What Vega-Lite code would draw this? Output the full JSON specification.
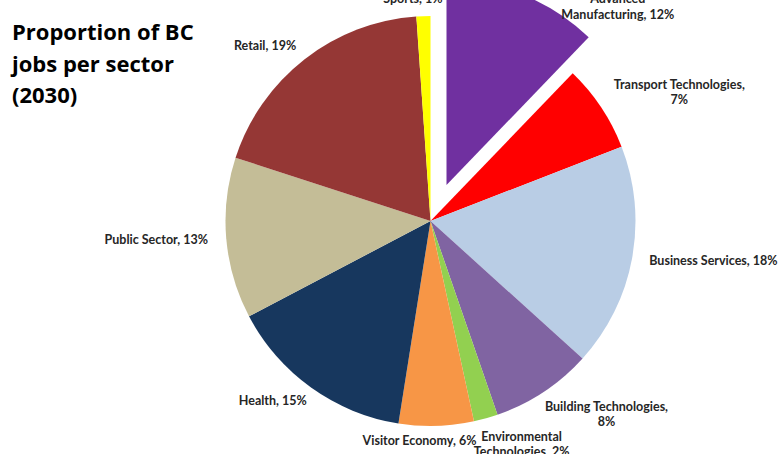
{
  "$schema": "https://vega.github.io/schema/vega-lite/v6.json",
  "width": 701,
  "height": 442,
  "autosize": {"type": "none"},
  "padding": {"left": 80, "top": 0, "right": 0, "bottom": 12},
  "background": "white",
  "view": {"stroke": null},
  "title": {
    "text": ["Proportion of BC", "jobs per sector", "(2030)"],
    "anchor": "start",
    "frame": "group",
    "orient": "top",
    "baseline": "top",
    "dx": -68,
    "dy": 134,
    "font": "Open Sans",
    "fontSize": 22,
    "fontWeight": "bold",
    "color": "#000000",
    "lineHeight": 31.5
  },
  "data": {
    "values": [
      {"sector": "Advanced Manufacturing", "value": 12.2, "order": 1, "label": ["Advanced", "Manufacturing, 12%"]},
      {"sector": "Transport Technologies", "value": 6.9, "order": 2, "label": ["Transport Technologies,", "7%"]},
      {"sector": "Business Services", "value": 17.6, "order": 3, "label": ["Business Services, 18%"]},
      {"sector": "Building Technologies", "value": 8.0, "order": 4, "label": ["Building Technologies,", "8%"]},
      {"sector": "Environmental Technologies", "value": 1.9, "order": 5, "label": ["Environmental", "Technologies, 2%"]},
      {"sector": "Visitor Economy", "value": 5.9, "order": 6, "label": ["Visitor Economy, 6%"]},
      {"sector": "Health", "value": 14.8, "order": 7, "label": ["Health, 15%"]},
      {"sector": "Public Sector", "value": 12.7, "order": 8, "label": ["Public Sector, 13%"]},
      {"sector": "Retail", "value": 18.9, "order": 9, "label": ["Retail, 19%"]},
      {"sector": "Sports", "value": 1.1, "order": 10, "label": ["Sports, 1%"]}
    ]
  },
  "encoding": {
    "theta": {"field": "value", "type": "quantitative", "stack": true},
    "order": {"field": "order", "type": "quantitative"}
  },
  "layer": [
    {
      "mark": {"type": "arc", "outerRadius": 205},
      "encoding": {
        "color": {
          "field": "sector", "type": "nominal", "legend": null,
          "scale": {
            "domain": ["Advanced Manufacturing", "Transport Technologies", "Business Services", "Building Technologies", "Environmental Technologies", "Visitor Economy", "Health", "Public Sector", "Retail", "Sports"],
            "range": ["#7030A0", "#FF0000", "#B9CDE5", "#8064A2", "#92D050", "#F79646", "#17375E", "#C4BD97", "#953735", "#FFFF00"]
          }
        },
        "opacity": {"condition": {"test": "datum.sector === 'Advanced Manufacturing'", "value": 0}, "value": 1}
      }
    },
    {
      "mark": {"type": "arc", "outerRadius": 205, "xOffset": 16, "yOffset": -36},
      "encoding": {
        "color": {
          "field": "sector", "type": "nominal", "legend": null,
          "scale": {
            "domain": ["Advanced Manufacturing", "Transport Technologies", "Business Services", "Building Technologies", "Environmental Technologies", "Visitor Economy", "Health", "Public Sector", "Retail", "Sports"],
            "range": ["#7030A0", "#FF0000", "#B9CDE5", "#8064A2", "#92D050", "#F79646", "#17375E", "#C4BD97", "#953735", "#FFFF00"]
          }
        },
        "opacity": {"condition": {"test": "datum.sector === 'Advanced Manufacturing'", "value": 1}, "value": 0}
      }
    },
    {
      "mark": {
        "type": "text", "radius": 212, "font": "Lato", "fontSize": 12.5, "fontWeight": "bold",
        "color": "#262626", "lineHeight": 15.5, "align": "center", "baseline": "middle",
        "dx": {"expr": "(sin(PI*(datum.value_start+datum.value_end)/100) < 0 ? -1 : 1)*pow(abs(sin(PI*(datum.value_start+datum.value_end)/100)), 0.4)*(max(length(datum.label[0]), length(datum.label[1] || ''))*2.95+10)"},
        "dy": {"expr": "-cos(PI*(datum.value_start+datum.value_end)/100)*(length(datum.label)*10) - (length(datum.label)-1)*7.75"}
      },
      "encoding": {
        "text": {"field": "label", "type": "nominal"},
        "opacity": {"condition": {"test": "datum.sector === 'Advanced Manufacturing' || datum.sector === 'Visitor Economy'", "value": 0}, "value": 1}
      }
    },
    {
      "mark": {
        "type": "text", "radius": 212, "font": "Lato", "fontSize": 12.5, "fontWeight": "bold",
        "color": "#262626", "lineHeight": 15.5, "align": "center", "baseline": "middle",
        "dx": 108, "dy": -25
      },
      "encoding": {
        "text": {"field": "label", "type": "nominal"},
        "opacity": {"condition": {"test": "datum.sector === 'Advanced Manufacturing'", "value": 1}, "value": 0}
      }
    },
    {
      "mark": {
        "type": "text", "radius": 212, "font": "Lato", "fontSize": 12.5, "fontWeight": "bold",
        "color": "#262626", "lineHeight": 15.5, "align": "center", "baseline": "middle",
        "dx": -17, "dy": 8
      },
      "encoding": {
        "text": {"field": "label", "type": "nominal"},
        "opacity": {"condition": {"test": "datum.sector === 'Visitor Economy'", "value": 1}, "value": 0}
      }
    }
  ]
}
